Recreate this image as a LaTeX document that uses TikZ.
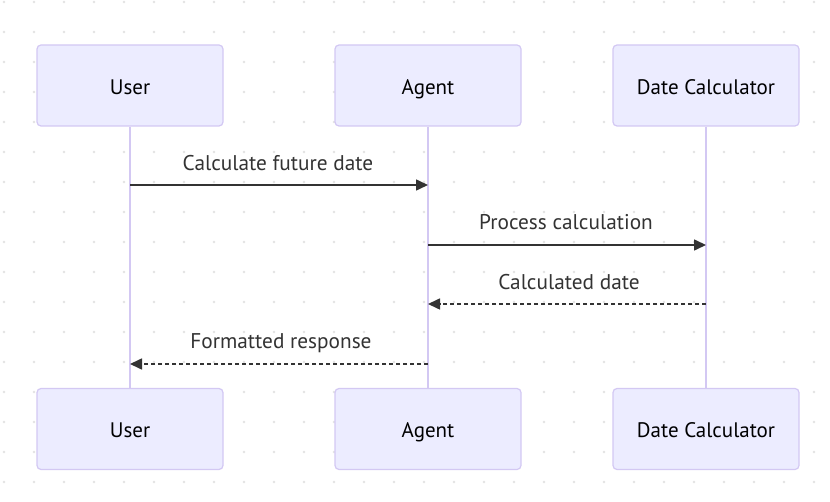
\documentclass[tikz,border=0pt]{standalone}
\usepackage{fontspec}
\setmainfont{PT Sans}
\usetikzlibrary{arrows.meta}
\definecolor{actfill}{HTML}{ECECFF}
\definecolor{actline}{HTML}{D3C8F3}
\definecolor{lifeln}{HTML}{D3C8F3}
\definecolor{msgcol}{HTML}{333333}
\definecolor{dotcol}{HTML}{E3E3E3}
\tikzset{
  actor/.style={draw=actline, fill=actfill, line width=1.2pt, rounded corners=4pt,
    minimum width=186pt, minimum height=81pt, inner sep=0pt, text=black,
    text height=18pt, text depth=0pt,
    font=\fontsize{21}{24}\selectfont},
  lifeline/.style={draw=lifeln, line width=2pt},
  msg/.style={draw=msgcol, line width=1.6pt, -{Triangle[length=12pt,width=11pt]}},
  reply/.style={msg, dash pattern=on 4pt off 3pt},
  msglabel/.style={text=msgcol, anchor=base, inner sep=0pt, font=\fontsize{21.3}{24}\selectfont},
}
\begin{document}
\begin{tikzpicture}[x=1pt,y=-1pt]
\useasboundingbox (0,0) rectangle (830,502);
\fill[white] (0,0) rectangle (830,502);
\foreach \i in {0,...,27} {
  \foreach \j in {0,...,16} {
    \fill[dotcol] (4+30*\i, 2+30*\j) circle (1.3pt);
  }
}
% actors top
\node[actor] (ut) at (130,85.5) {User};
\node[actor] (at) at (428,85.5) {Agent};
\node[actor] (dt) at (706,85.5) {Date Calculator};
% actors bottom
\node[actor] (ub) at (130,429) {User};
\node[actor] (ab) at (428,429) {Agent};
\node[actor] (db) at (706,429) {Date Calculator};
% lifelines
\draw[lifeline] (ut.south) -- (ub.north);
\draw[lifeline] (at.south) -- (ab.north);
\draw[lifeline] (dt.south) -- (db.north);
% message anchor points
\coordinate (u1) at (130,185); \coordinate (a1) at (428,185);
\coordinate (a2) at (428,245); \coordinate (d2) at (706,245);
\coordinate (d3) at (706,304); \coordinate (a3) at (428,304);
\coordinate (a4) at (428,364); \coordinate (u4) at (130,364);
\draw[msg] (u1) -- (a1);
\node[msglabel] (l1) at (278,171) {Calculate future date};
\draw[msg] (a2) -- (d2);
\node[msglabel] (l2) at (566,230) {Process calculation};
\draw[reply] (d3) -- (a3);
\node[msglabel] (l3) at (569,290) {Calculated date};
\draw[reply] (a4) -- (u4);
\node[msglabel] (l4) at (281,349) {Formatted response};
\end{tikzpicture}
\end{document}
